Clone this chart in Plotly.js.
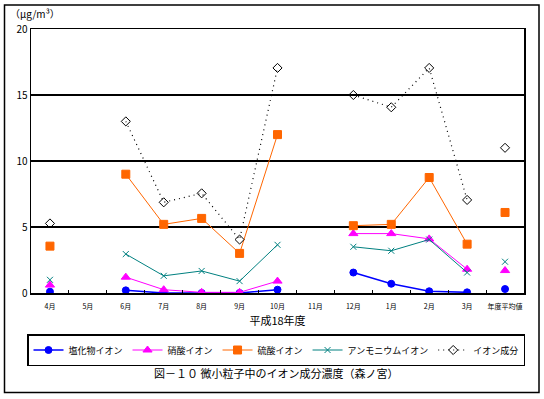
<!DOCTYPE html>
<html>
<head>
<meta charset="utf-8">
<script src="https://cdn.plot.ly/plotly-3.0.1.min.js"></script>
<style>html,body{margin:0;padding:0;background:#fff;}#chart{width:544px;height:399px;}</style>
</head>
<body>
<div id="chart"></div>
<script>
const months = ["4月","5月","6月","7月","8月","9月","10月","11月","12月","1月","2月","3月","年度平均値"];
const chloride = [0.1, null, 0.2, 0.0, 0.0, 0.0, 0.25, null, 1.55, 0.7, 0.13, 0.05, 0.3];
const nitrate  = [0.6, null, 1.2, 0.25, 0.05, 0.05, 0.9, null, 4.5, 4.5, 4.1, 1.8, 1.7];
const sulfate  = [3.55, null, 9.0, 5.2, 5.65, 3.0, 12.0, null, 5.1, 5.2, 8.75, 3.7, 6.1];
const ammonium = [1.0, null, 2.95, 1.3, 1.67, 0.9, 3.65, null, 3.5, 3.2, 4.05, 1.55, 2.37];
const ionTotal = [5.27, null, 13.0, 6.87, 7.55, 4.05, 17.05, null, 15.0, 14.07, 17.05, 7.05, 11.0];
const seriesNames = ["塩化物イオン","硝酸イオン","硫酸イオン","アンモニウムイオン","イオン成分"];
const yTicks = [0, 5, 10, 15, 20];

const FONT = "Noto Sans CJK JP, sans-serif";
const styles = [
  {color:"#0000FF", symbol:"circle", size:7, width:1.5, dash:"solid"},
  {color:"#FF00FF", symbol:"triangle-up", size:8, width:1, dash:"solid"},
  {color:"#FF6600", symbol:"square", size:8, width:1, dash:"solid"},
  {color:"#008080", symbol:"x-thin-open", size:6, width:1, dash:"solid"},
  {color:"#000000", symbol:"diamond-open", size:7, width:1.2, dash:"1px,4px"}
];
const allData = [chloride, nitrate, sulfate, ammonium, ionTotal];
const last = months.length - 1;
const traces = [];
allData.forEach((vals, i) => {
  const s = styles[i];
  const main = vals.map((v, k) => k === last ? null : v);
  traces.push({
    type:"scatter", mode:"lines+markers", name:seriesNames[i],
    x:months, y:main, connectgaps:false,
    line:{color:s.color, width:s.width, dash:s.dash},
    marker:{color:s.color, symbol:s.symbol, size:s.size, line:{color:s.color, width:1}}
  });
  traces.push({
    type:"scatter", mode:"markers", showlegend:false,
    x:[months[last]], y:[vals[last]],
    marker:{color:s.color, symbol:s.symbol, size:s.size, line:{color:s.color, width:1}}
  });
});

const px = p => (p - 31) / 493;
const py = p => (293 - p) / 264;

const layout = {
  width:544, height:399,
  margin:{l:31, r:20, t:29, b:106},
  paper_bgcolor:"#fff", plot_bgcolor:"#fff",
  font:{family:FONT, color:"#000", size:10},
  showlegend:true,
  legend:{orientation:"h", x:px(276), xanchor:"center", y:py(350), yanchor:"middle",
          bordercolor:"#000", borderwidth:1.5, font:{size:9, family:FONT},
          itemwidth:30, tracegroupgap:0, traceorder:"normal"},
  xaxis:{type:"category", categoryorder:"array", categoryarray:months,
         range:[-0.5, 12.5], showgrid:false, zeroline:false,
         showline:true, linecolor:"#000", linewidth:1.5, mirror:true,
         ticks:"inside", tickson:"boundaries", ticklen:3, tickcolor:"#000",
         tickangle:0, automargin:false, ticklabelstandoff:6,
         tickfont:{size:7, family:FONT}, fixedrange:true,
         title:{text:"平成18年度", font:{size:11, family:FONT}, standoff:7}},
  yaxis:{range:[0,20], tickvals:yTicks, ticktext:yTicks.map(String),
         showgrid:true, gridcolor:"#000", gridwidth:1.2,
         zeroline:false, showline:true, linecolor:"#000", linewidth:1.5, mirror:true,
         ticks:"", tickfont:{size:10, family:FONT}, fixedrange:true},
  shapes:[
    {type:"rect", xref:"paper", yref:"paper", x0:px(4.5), x1:px(539), y0:py(392.5), y1:py(5),
     line:{color:"#000", width:1.5}, fillcolor:"rgba(0,0,0,0)", layer:"below"}
  ],
  annotations:[
    {xref:"paper", yref:"paper", x:px(8), y:py(14), xanchor:"left", yanchor:"middle",
     text:"（μg/m³）", showarrow:false, font:{size:10, family:FONT}},
    {xref:"paper", yref:"paper", x:px(276), y:py(373), xanchor:"center", yanchor:"middle",
     text:"図－１０ 微小粒子中のイオン成分濃度（森ノ宮）", showarrow:false, font:{size:11, family:FONT}}
  ]
};

Plotly.newPlot("chart", traces, layout, {staticPlot:true, displayModeBar:false});
</script>
</body>
</html>
